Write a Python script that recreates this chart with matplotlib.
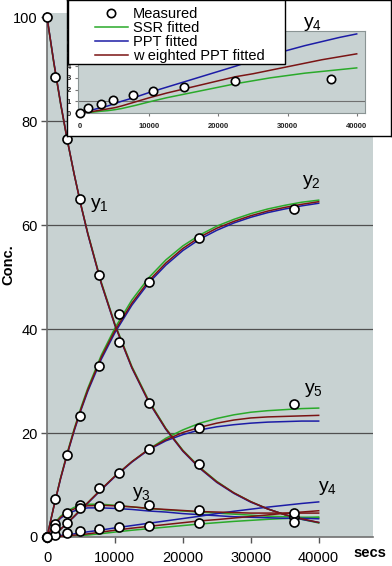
import matplotlib
matplotlib.use("Agg")
import matplotlib.pyplot as plt
from matplotlib.patches import Rectangle

plt.rcParams['font.family'] = ['Liberation Sans', 'DejaVu Sans']

# measured concentrations
t_meas = [0, 1200, 3000, 4800, 7700, 10600, 15000, 22400, 36300]
y1_meas = [100, 88.5, 76.5, 65.0, 50.4, 37.5, 25.8, 14.0, 3.9]
y2_meas = [0, 7.3, 15.8, 23.2, 32.9, 42.9, 49.0, 57.5, 63.1]
y3_meas = [0, 2.5, 4.7, 6.1, 6.0, 6.0, 6.1, 5.2, 4.6]
y4_meas = [0, 0.4, 0.8, 1.1, 1.5, 1.9, 2.2, 2.7, 2.9]
y5_meas = [0, 1.7, 2.75, 5.5, 9.4, 12.3, 17.0, 21.0, 25.6]

# fitted curves
t_fit = [0, 1000, 2000, 3000, 4000, 5000, 6000, 8000, 10000, 12500, 15000,
         17500, 20000, 22500, 25000, 27500, 30000, 32500, 35000, 37500, 40000]

y1_ssr = [100, 91.2, 83.3, 76.2, 69.8, 63.9, 58.5, 49.0, 41.0, 32.8, 26.2,
          20.9, 16.7, 13.4, 10.7, 8.5, 6.8, 5.4, 4.3, 3.4, 2.7]
y1_ppt = [100, 91.4, 83.5, 76.3, 69.8, 63.8, 58.3, 48.7, 40.7, 32.5, 25.9,
          20.7, 16.5, 13.2, 10.5, 8.4, 6.7, 5.4, 4.3, 3.4, 2.8]
y1_wppt = [100, 91.3, 83.4, 76.3, 69.8, 63.8, 58.4, 48.8, 40.8, 32.6, 26.0,
           20.8, 16.6, 13.3, 10.6, 8.5, 6.8, 5.4, 4.3, 3.5, 2.8]

y2_ssr = [0, 5.9, 11.4, 16.3, 20.8, 24.9, 28.6, 35.0, 40.2, 45.6, 49.9,
          53.3, 56.0, 58.1, 59.8, 61.1, 62.2, 63.1, 63.8, 64.4, 64.8]
y2_ppt = [0, 5.8, 11.2, 16.0, 20.4, 24.4, 28.0, 34.2, 39.3, 44.6, 48.9,
          52.3, 55.1, 57.3, 59.0, 60.4, 61.5, 62.4, 63.1, 63.7, 64.2]
y2_wppt = [0, 5.8, 11.3, 16.1, 20.6, 24.6, 28.3, 34.6, 39.7, 45.0, 49.3,
           52.7, 55.5, 57.7, 59.4, 60.7, 61.8, 62.7, 63.4, 64.0, 64.5]

y3_ssr = [0, 2.5, 4.0, 5.0, 5.7, 6.1, 6.3, 6.3, 6.1, 5.8, 5.5,
          5.2, 5.0, 4.8, 4.6, 4.4, 4.2, 4.0, 3.9, 3.8, 3.7]
y3_ppt = [0, 2.2, 3.6, 4.5, 5.0, 5.4, 5.6, 5.6, 5.5, 5.3, 5.0,
          4.8, 4.5, 4.3, 4.1, 3.9, 3.8, 3.7, 3.6, 3.6, 3.5]
y3_wppt = [0, 2.3, 3.8, 4.8, 5.4, 5.8, 6.0, 6.1, 6.0, 5.8, 5.5,
           5.3, 5.1, 4.9, 4.8, 4.7, 4.6, 4.6, 4.6, 4.6, 4.6]

y4_ssr = [0, 0.02, 0.08, 0.15, 0.2, 0.28, 0.38, 0.65, 0.95, 1.3, 1.6,
          1.9, 2.2, 2.5, 2.75, 3.0, 3.2, 3.4, 3.55, 3.7, 3.85]
y4_ppt = [0, 0.1, 0.3, 0.45, 0.6, 0.8, 1.0, 1.35, 1.75, 2.2, 2.65,
          3.1, 3.55, 4.0, 4.5, 4.95, 5.35, 5.75, 6.1, 6.45, 6.75]
y4_wppt = [0, 0.05, 0.15, 0.25, 0.35, 0.45, 0.6, 0.95, 1.3, 1.7, 2.05,
           2.4, 2.75, 3.1, 3.35, 3.65, 3.95, 4.25, 4.55, 4.8, 5.05]

y5_ssr = [0, 0.5, 1.5, 2.7, 4.0, 5.3, 6.6, 9.2, 11.7, 14.5, 16.9,
          19.0, 20.6, 21.9, 22.8, 23.5, 24.0, 24.3, 24.5, 24.7, 24.8]
y5_ppt = [0, 0.5, 1.5, 2.7, 3.9, 5.2, 6.5, 9.1, 11.6, 14.4, 16.8,
          18.5, 19.7, 20.6, 21.2, 21.6, 21.9, 22.1, 22.2, 22.3, 22.3]
y5_wppt = [0, 0.5, 1.5, 2.7, 4.0, 5.3, 6.6, 9.2, 11.7, 14.5, 16.9,
           18.7, 20.1, 21.1, 21.9, 22.5, 22.9, 23.1, 23.2, 23.3, 23.4]

GREEN = '#2aaa2a'
BLUE = '#1c1ca6'
RED = '#7a1414'
BG = '#c8d2d2'

W, H = 392, 566


def fig_rect(x0, y0, x1, y1):
    # pixel box (top-left origin) -> figure fraction rect
    return [x0 / W, 1 - y1 / H, (x1 - x0) / W, (y1 - y0) / H]


fig = plt.figure(figsize=(W / 100, H / 100), dpi=100)

# ---------------- main chart ----------------
ax = fig.add_axes(fig_rect(47, 13, 373, 537), zorder=1)
ax.set_facecolor(BG)
ax.set_xlim(0, 48000)
ax.set_ylim(0, 100.8)

for yg in [20, 40, 60, 80]:
    ax.axhline(yg, color='#505050', lw=0.9, zorder=1)

ssr_sets = [y1_ssr, y2_ssr, y3_ssr, y4_ssr, y5_ssr]
ppt_sets = [y1_ppt, y2_ppt, y3_ppt, y4_ppt, y5_ppt]
wppt_sets = [y1_wppt, y2_wppt, y3_wppt, y4_wppt, y5_wppt]
meas_sets = [y1_meas, y2_meas, y3_meas, y4_meas, y5_meas]

for ys in ssr_sets:
    ax.plot(t_fit, ys, color=GREEN, lw=1.1, zorder=2)
for ys in ppt_sets:
    ax.plot(t_fit, ys, color=BLUE, lw=1.1, zorder=3)
for ys in wppt_sets:
    ax.plot(t_fit, ys, color=RED, lw=1.1, zorder=4)
for ys in meas_sets:
    ax.plot(t_meas, ys, 'o', ms=6.5, mfc='white', mec='black', mew=1.2,
            zorder=5, clip_on=False)

ax.set_xticks([0, 10000, 20000, 30000, 40000])
ax.set_yticks([0, 20, 40, 60, 80, 100])
ax.tick_params(axis='both', labelsize=10.5, color='#555555', length=4.5, width=1)
ax.tick_params(axis='x', pad=5.5)
ax.tick_params(axis='y', pad=2)
for s in ['top', 'right']:
    ax.spines[s].set_visible(False)
for s in ['left', 'bottom']:
    ax.spines[s].set_color('#707070')
    ax.spines[s].set_linewidth(1.2)

lbl = dict(fontsize=14, ha='center', va='center', zorder=6)
ax.text(7650, 63.8, r'$\mathregular{y_1}$', **lbl)
ax.text(38970, 68.3, r'$\mathregular{y_2}$', **lbl)
ax.text(13970, 8.3, r'$\mathregular{y_3}$', **lbl)
ax.text(41300, 9.4, r'$\mathregular{y_4}$', **lbl)
ax.text(39260, 28.3, r'$\mathregular{y_5}$', **lbl)

fig.text(8 / W, 1 - 265 / H, 'Conc.', rotation=90, fontsize=10.5,
         fontweight='bold', ha='center', va='center')
fig.text(353 / W, 1 - 553 / H, 'secs', fontsize=10.5, fontweight='bold',
         ha='left', va='center')

# ---------------- inset box ----------------
box = fig.add_axes(fig_rect(67, 0.5, 391, 136), zorder=2)
box.set_facecolor('white')
box.set_xticks([])
box.set_yticks([])
for s in box.spines.values():
    s.set_color('black')
    s.set_linewidth(1)

ins = fig.add_axes(fig_rect(78, 31, 365, 113), zorder=3)
ins.set_facecolor(BG)
ins.set_xlim(-300, 41200)
ins.set_ylim(0, 7)
ins.axhline(1, color='#707070', lw=0.8, zorder=1)
l_m, = ins.plot(t_meas, y4_meas, 'o', ms=6, mfc='white', mec='black',
                mew=1.2, zorder=5, clip_on=False, label='Measured')
l_s, = ins.plot(t_fit, y4_ssr, color=GREEN, lw=1.1, zorder=2, label='SSR fitted')
l_p, = ins.plot(t_fit, y4_ppt, color=BLUE, lw=1.1, zorder=3, label='PPT fitted')
l_w, = ins.plot(t_fit, y4_wppt, color=RED, lw=1.1, zorder=4,
                label='w eighted PPT fitted')
ins.set_xticks([0, 10000, 20000, 30000, 40000])
ins.set_yticks(range(0, 8))
ins.tick_params(axis='both', labelsize=5.5, color='#777777', length=2,
                labelcolor='#222222')
ins.tick_params(axis='x', pad=5)
ins.tick_params(axis='y', pad=3)
for t in ins.get_xticklabels() + ins.get_yticklabels():
    t.set_fontweight('bold')
for s in ins.spines.values():
    s.set_color('#8a9494')
    s.set_linewidth(0.8)

fig.text(313 / W, 1 - 24 / H, r'$\mathregular{y_4}$', fontsize=14,
         ha='center', va='center', zorder=10)

# legend frame and legend
frame = Rectangle((68 / W, 1 - 64 / H), (285 - 68) / W, 64 / H,
                  transform=fig.transFigure, facecolor='white',
                  edgecolor='black', lw=1, zorder=10, clip_on=False)
ins.add_artist(frame)
leg = ins.legend(handles=[l_m, l_s, l_p, l_w], loc='upper left',
                 bbox_to_anchor=(95 / W, 1 - 7 / H),
                 bbox_transform=fig.transFigure, frameon=False,
                 fontsize=10.5, handlelength=2.26, handletextpad=0.35,
                 labelspacing=0.0, borderpad=0, borderaxespad=0)
leg.set_zorder(20)

fig.savefig('out.png', dpi=100)
